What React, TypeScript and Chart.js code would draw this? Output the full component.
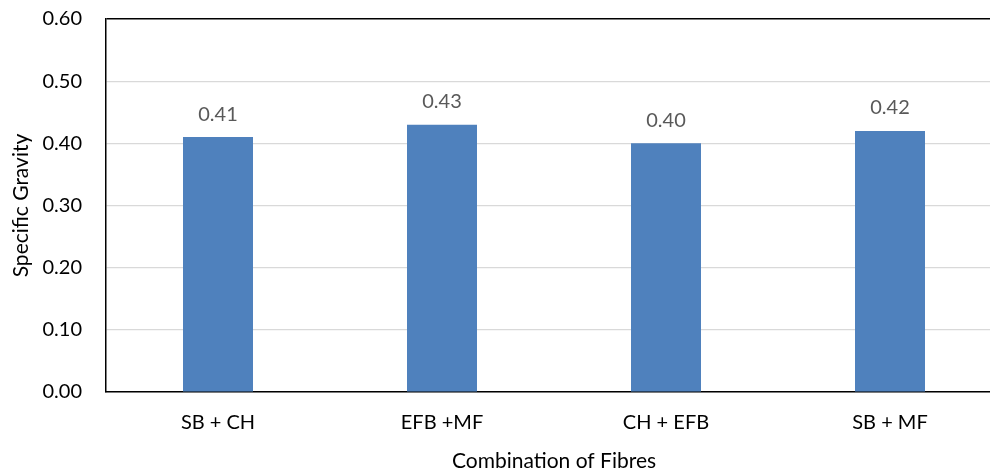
import React, { useEffect, useRef } from "react";
import { Chart, registerables } from "chart.js";

Chart.register(...registerables);

const categories = ["SB + CH", "EFB +MF", "CH + EFB", "SB + MF"];
const values = [0.41, 0.43, 0.4, 0.42];
const yTicks = [0, 0.1, 0.2, 0.3, 0.4, 0.5, 0.6];

const FONT = "Lato, 'Open Sans', sans-serif";

const dataLabels = {
  id: "dataLabels",
  afterDatasetsDraw(chart: any) {
    const ctx = chart.ctx;
    const meta = chart.getDatasetMeta(0);
    ctx.save();
    ctx.font = `20px ${FONT}`;
    ctx.fillStyle = "#595959";
    ctx.textAlign = "center";
    ctx.textBaseline = "middle";
    meta.data.forEach((bar: any, i: number) => {
      ctx.fillText(values[i].toFixed(2), bar.x, bar.y - 23);
    });
    ctx.restore();
  },
};

export default function App() {
  const ref = useRef<HTMLCanvasElement | null>(null);
  useEffect(() => {
    if (!ref.current) return;
    const chart = new Chart(ref.current, {
      type: "bar",
      data: {
        labels: categories,
        datasets: [
          {
            data: values,
            backgroundColor: "#4F81BD",
            categoryPercentage: 1,
            barPercentage: 0.3125,
          },
        ],
      },
      options: {
        animation: false,
        responsive: false,
        devicePixelRatio: 1,
        layout: { padding: { top: 19, right: 8, bottom: 0, left: 0 } },
        plugins: { legend: { display: false }, tooltip: { enabled: false } },
        scales: {
          x: {
            grid: { display: false, drawTicks: false },
            border: { display: true, color: "#000000", width: 1.5 },
            ticks: { color: "#000000", font: { family: FONT, size: 20 }, padding: 19 },
            title: {
              display: true,
              text: "Combination of Fibres",
              color: "#000000",
              font: { family: FONT, size: 21 },
              padding: { top: 0, bottom: 2 },
            },
            afterFit: (s: any) => {
              s.height = 84;
            },
          },
          y: {
            min: 0,
            max: 0.6,
            afterBuildTicks: (s: any) => {
              s.ticks = yTicks.map((v) => ({ value: v }));
            },
            grid: {
              drawTicks: true,
              tickLength: 24,
              tickColor: "rgba(0,0,0,0)",
              color: (c: any) => (c.tick && Math.abs(c.tick.value - 0.6) < 1e-9 ? "#000000" : "#D9D9D9"),
              lineWidth: (c: any) => (c.tick && Math.abs(c.tick.value - 0.6) < 1e-9 ? 1.5 : 1.2),
            },
            border: { display: true, color: "#000000", width: 1.5 },
            ticks: {
              color: "#000000",
              font: { family: FONT, size: 20 },
              padding: 0,
              callback: (v: any) => Number(v).toFixed(2),
            },
            title: {
              display: true,
              text: "Specific Gravity",
              color: "#000000",
              font: { family: FONT, size: 21 },
              padding: { top: 9, bottom: 0 },
            },
            afterFit: (s: any) => {
              s.width = 106;
            },
          },
        },
      },
      plugins: [dataLabels],
    });
    return () => chart.destroy();
  }, []);
  return (
    <div style={{ position: "fixed", left: 0, top: 0, width: 990, height: 476, overflow: "hidden", background: "#fff" }}>
      <canvas ref={ref} width={1010} height={476} style={{ display: "block", width: 1010, height: 476 }} />
    </div>
  );
}
